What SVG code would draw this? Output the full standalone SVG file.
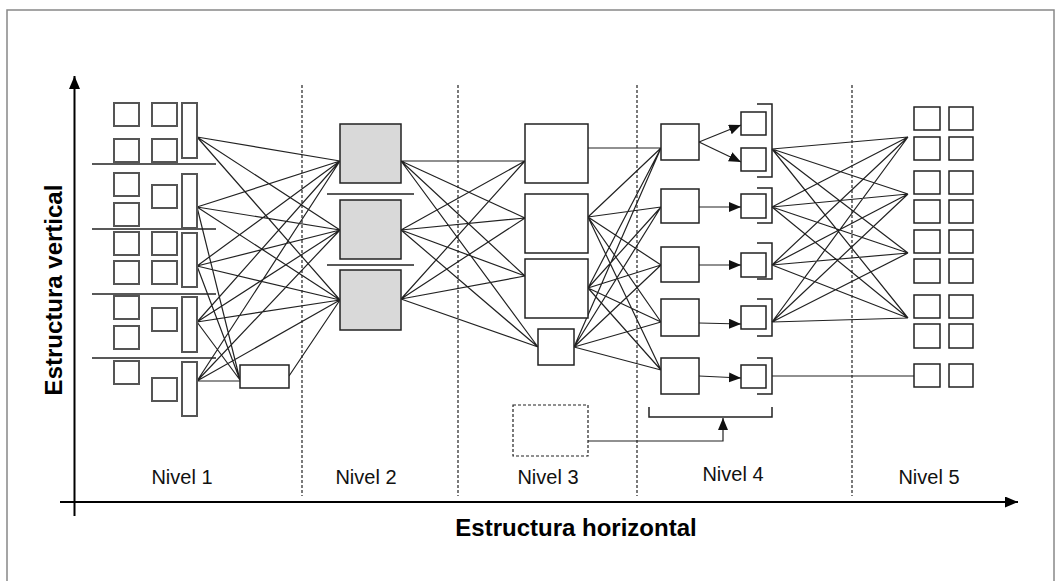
<svg xmlns="http://www.w3.org/2000/svg" width="1062" height="581" viewBox="0 0 1062 581">
<style>
.l1{fill:#fff;stroke:#555;stroke-width:2}
.bx{fill:#fff;stroke:#222;stroke-width:1.5}
.gr{fill:#d9d9d9;stroke:#222;stroke-width:1.5}
.sep{stroke:#222;stroke-width:1.5}
.dash{stroke:#222;stroke-width:1.2;stroke-dasharray:3,2;fill:none}
.cn{stroke:#222;stroke-width:1.2;fill:none}
.br{stroke:#222;stroke-width:1.5;fill:none}
.lbl{font-family:"Liberation Sans",Arial,sans-serif;font-size:20px;fill:#111;text-anchor:middle}
.ttl{font-family:"Liberation Sans",Arial,sans-serif;font-size:24px;font-weight:bold;fill:#000;text-anchor:middle}
</style>
<defs>
<marker id="ah" markerUnits="userSpaceOnUse" markerWidth="13" markerHeight="11" refX="12" refY="5" orient="auto">
<path d="M0,0 L12,5 L0,10 z" fill="#111"/>
</marker>
<marker id="ax" markerUnits="userSpaceOnUse" markerWidth="14" markerHeight="12" refX="13" refY="5.5" orient="auto">
<path d="M0,0 L13,5.5 L0,11 z" fill="#000"/>
</marker>
</defs>
<rect width="1062" height="581" fill="#fff"/>
<rect x="7" y="10" width="1047" height="600" fill="none" stroke="#888" stroke-width="1.5"/>

<g id="axes">
<line x1="74.5" y1="516" x2="74.5" y2="76" stroke="#000" stroke-width="2" marker-end="url(#ax)"/>
<line x1="60" y1="502" x2="1018" y2="502" stroke="#000" stroke-width="2" marker-end="url(#ax)"/>
<text class="ttl" x="576" y="536">Estructura horizontal</text>
<text class="ttl" transform="translate(62,290) rotate(-90)">Estructura vertical</text>
</g>

<g id="dividers">
<line class="dash" x1="302" y1="85" x2="302" y2="496"/>
<line class="dash" x1="458" y1="85" x2="458" y2="496"/>
<line class="dash" x1="637" y1="85" x2="637" y2="496"/>
<line class="dash" x1="852" y1="85" x2="852" y2="496"/>
</g>

<g id="connectors">
<path class="cn" d="M197,137 L340,161 M197,137 L340,230 M197,137 L340,300
M197,207 L340,161 M197,207 L340,230 M197,207 L340,300
M197,266 L340,161 M197,266 L340,230 M197,266 L340,300
M197,322 L340,161 M197,322 L340,230 M197,322 L340,300
M197,381 L340,161 M197,381 L340,230 M197,381 L340,300
M197,207 L240,380 M197,266 L240,380 M197,322 L240,380 M197,381 L240,381
M289,376 L340,300"/>
<path class="cn" d="M401,161 L525,161 M401,161 L525,218 M401,161 L525,276 M401,161 L538,347
M401,230 L525,161 M401,230 L525,218 M401,230 L525,276 M401,230 L538,347
M401,299 L525,161 M401,299 L525,218 M401,299 L525,276 M401,299 L538,347"/>
<path class="cn" d="M588,148 L661,148
M588,217 L661,148 M588,217 L661,207 M588,217 L661,265 M588,217 L661,322 M588,217 L661,370
M588,288 L661,148 M588,288 L661,207 M588,288 L661,265 M588,288 L661,322 M588,288 L661,370
M574,347 L661,148 M574,347 L661,207 M574,347 L661,265 M574,347 L661,322 M574,347 L661,370"/>
<path class="cn" d="M772,149 L908,137 M772,149 L908,194 M772,149 L908,253 M772,149 L908,318
M772,207 L908,137 M772,207 L908,194 M772,207 L908,253 M772,207 L908,318
M772,265 L908,137 M772,265 L908,194 M772,265 L908,253 M772,265 L908,318
M772,322 L908,137 M772,322 L908,194 M772,322 L908,253 M772,322 L908,318
M772,376 L914,376"/>
<line class="cn" stroke-width="1.6" x1="699" y1="142" x2="741" y2="125" marker-end="url(#ah)"/>
<line class="cn" stroke-width="1.6" x1="699" y1="142" x2="741" y2="162" marker-end="url(#ah)"/>
<line class="cn" stroke-width="1.6" x1="699" y1="207" x2="741" y2="207" marker-end="url(#ah)"/>
<line class="cn" stroke-width="1.6" x1="699" y1="265" x2="741" y2="265" marker-end="url(#ah)"/>
<line class="cn" stroke-width="1.6" x1="699" y1="323" x2="741" y2="324" marker-end="url(#ah)"/>
<line class="cn" stroke-width="1.6" x1="699" y1="376" x2="741" y2="378" marker-end="url(#ah)"/>
<polyline class="cn" stroke-width="1.6" points="588,441 723,441 723,418" marker-end="url(#ah)"/>
</g>

<g id="nivel1">
<line class="sep" x1="92" y1="164" x2="216" y2="164"/>
<line class="sep" x1="92" y1="229" x2="216" y2="229"/>
<line class="sep" x1="92" y1="294" x2="216" y2="294"/>
<line class="sep" x1="92" y1="358" x2="216" y2="358"/>
<rect class="l1" x="114" y="103" width="25" height="23"/>
<rect class="l1" x="114" y="139" width="25" height="23"/>
<rect class="l1" x="152" y="103" width="25" height="23"/>
<rect class="l1" x="152" y="139" width="25" height="23"/>
<rect class="l1" x="182" y="103" width="15" height="55"/>
<rect class="l1" x="114" y="173" width="25" height="23"/>
<rect class="l1" x="114" y="203" width="25" height="23"/>
<rect class="l1" x="152" y="185" width="25" height="23"/>
<rect class="l1" x="182" y="174" width="15" height="54"/>
<rect class="l1" x="114" y="232" width="25" height="23"/>
<rect class="l1" x="114" y="261" width="25" height="23"/>
<rect class="l1" x="152" y="232" width="25" height="23"/>
<rect class="l1" x="152" y="261" width="25" height="23"/>
<rect class="l1" x="182" y="233" width="15" height="54"/>
<rect class="l1" x="114" y="296" width="25" height="23"/>
<rect class="l1" x="114" y="326" width="25" height="23"/>
<rect class="l1" x="152" y="308" width="25" height="23"/>
<rect class="l1" x="182" y="297" width="15" height="55"/>
<rect class="l1" x="114" y="361" width="25" height="23"/>
<rect class="l1" x="152" y="378" width="25" height="23"/>
<rect class="l1" x="182" y="362" width="15" height="54"/>
<rect class="bx" x="240" y="365" width="49" height="23"/>
<text class="lbl" x="182" y="484">Nivel 1</text>
</g>

<g id="nivel2">
<line class="sep" x1="327" y1="194" x2="414" y2="194"/>
<line class="sep" x1="327" y1="265" x2="414" y2="265"/>
<rect class="gr" x="340" y="124" width="61" height="59"/>
<rect class="gr" x="340" y="200" width="61" height="59"/>
<rect class="gr" x="340" y="270" width="61" height="60"/>
<text class="lbl" x="366" y="484">Nivel 2</text>
</g>

<g id="nivel3">
<rect class="bx" x="525" y="124" width="63" height="59"/>
<rect class="bx" x="525" y="194" width="63" height="59"/>
<rect class="bx" x="525" y="259" width="63" height="59"/>
<rect class="bx" x="538" y="329" width="36" height="36"/>
<rect class="dash" stroke-width="1.5" x="513" y="405" width="75" height="51"/>
<text class="lbl" x="548" y="484">Nivel 3</text>
</g>

<g id="nivel4">
<rect class="bx" x="661" y="124" width="38" height="36"/>
<rect class="bx" x="661" y="189" width="38" height="34"/>
<rect class="bx" x="661" y="247" width="38" height="35"/>
<rect class="bx" x="661" y="299" width="38" height="37"/>
<rect class="bx" x="661" y="358" width="38" height="36"/>
<rect class="bx" x="741" y="112" width="25" height="23"/>
<rect class="bx" x="741" y="148" width="25" height="23"/>
<rect class="bx" x="741" y="194" width="25" height="24"/>
<rect class="bx" x="741" y="253" width="25" height="24"/>
<rect class="bx" x="741" y="306" width="25" height="23"/>
<rect class="bx" x="741" y="365" width="25" height="23"/>
<polyline class="br" points="757,104 772,104 772,177 757,177"/>
<polyline class="br" points="757,188 772,188 772,223 757,223"/>
<polyline class="br" points="757,243 772,243 772,279 757,279"/>
<polyline class="br" points="757,299 772,299 772,336 757,336"/>
<polyline class="br" points="757,358 772,358 772,394 757,394"/>
<polyline class="br" points="649,407 649,417 772,417 772,407"/>
<text class="lbl" x="733" y="481">Nivel 4</text>
</g>

<g id="nivel5">
<rect class="bx" x="914" y="107" width="26" height="23"/>
<rect class="bx" x="949" y="107" width="24" height="23"/>
<rect class="bx" x="914" y="137" width="26" height="23"/>
<rect class="bx" x="949" y="137" width="24" height="23"/>
<rect class="bx" x="914" y="171" width="26" height="23"/>
<rect class="bx" x="949" y="171" width="24" height="23"/>
<rect class="bx" x="914" y="200" width="26" height="23"/>
<rect class="bx" x="949" y="200" width="24" height="23"/>
<rect class="bx" x="914" y="230" width="26" height="23"/>
<rect class="bx" x="949" y="230" width="24" height="23"/>
<rect class="bx" x="914" y="259" width="26" height="24"/>
<rect class="bx" x="949" y="259" width="24" height="24"/>
<rect class="bx" x="914" y="295" width="26" height="23"/>
<rect class="bx" x="949" y="295" width="24" height="23"/>
<rect class="bx" x="914" y="324" width="26" height="24"/>
<rect class="bx" x="949" y="324" width="24" height="24"/>
<rect class="bx" x="914" y="364" width="26" height="23"/>
<rect class="bx" x="949" y="364" width="24" height="23"/>
<text class="lbl" x="929" y="484">Nivel 5</text>
</g>
</svg>
